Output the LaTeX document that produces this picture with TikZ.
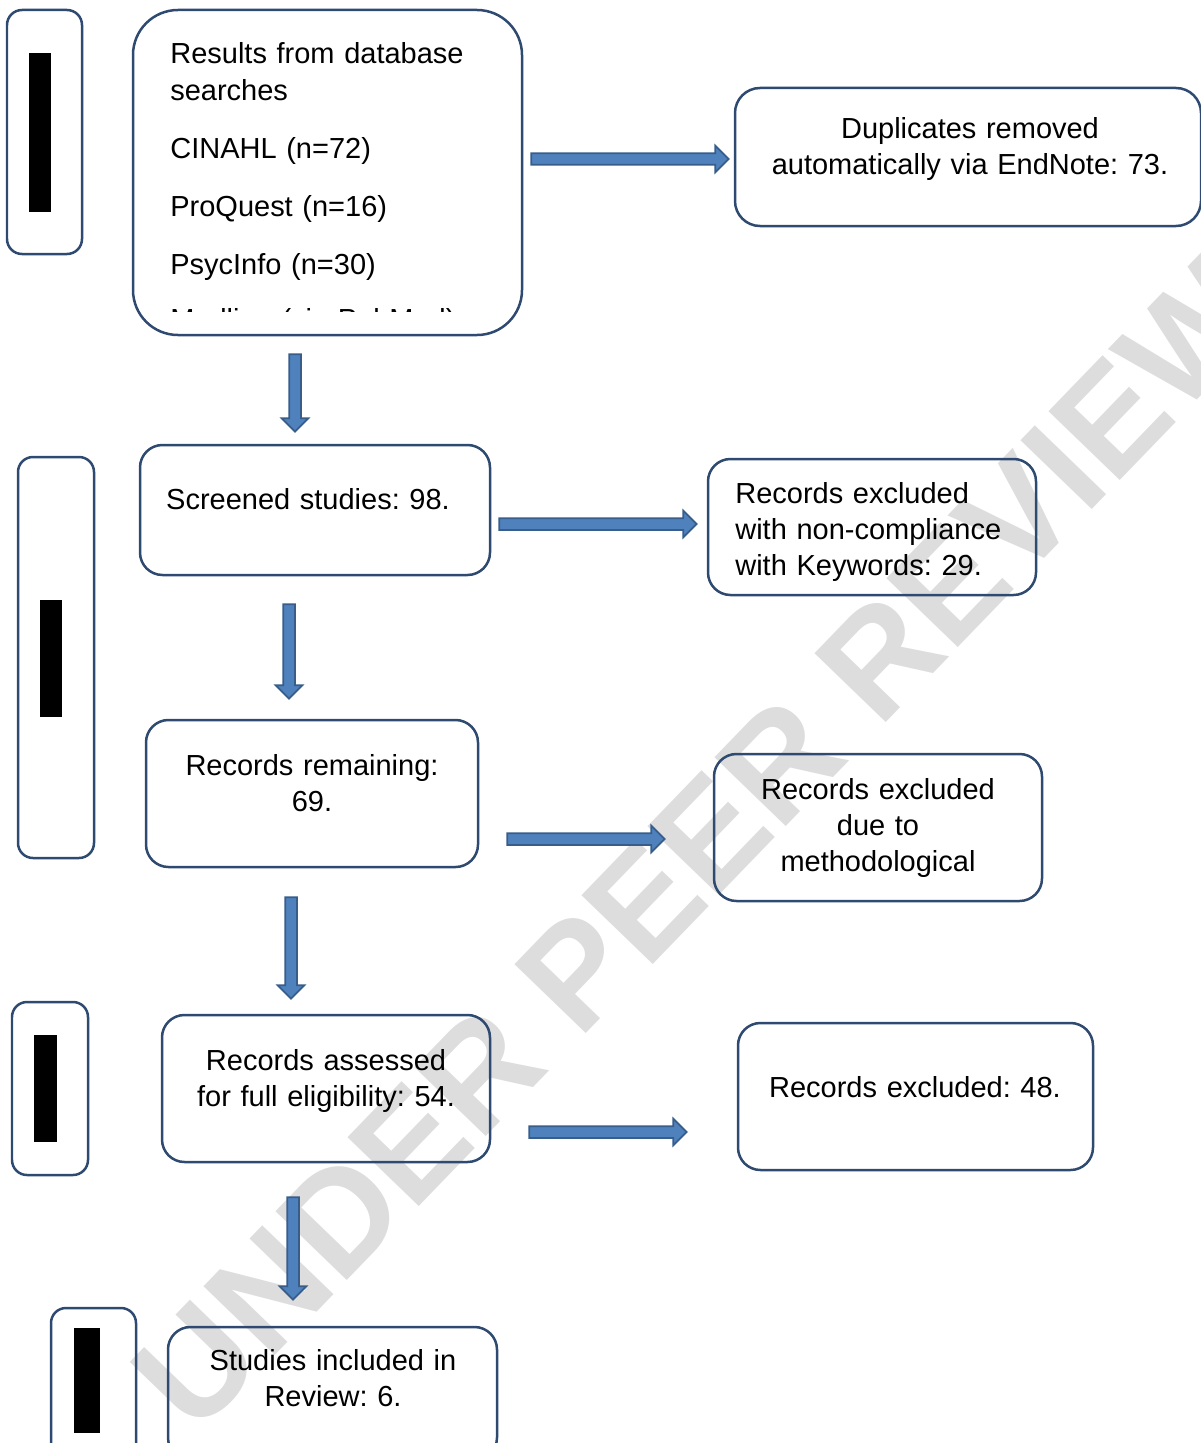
\documentclass[tikz,border=0pt]{standalone}
\usepackage{fontspec}
\setmainfont{Liberation Sans}
\frenchspacing
\usetikzlibrary{shapes.arrows,fit,calc}

\definecolor{boxedge}{RGB}{46,74,112}
\definecolor{arrowedge}{RGB}{56,93,138}
\definecolor{arrowfill}{RGB}{79,129,189}
\definecolor{markgray}{RGB}{221,221,221}

% Block arrow from one named coordinate to another (#3 = node name)
\newcommand{\blockarrow}[3]{%
  \path let \p1=(#1), \p2=(#2),
            \n1={atan2(\y2-\y1,\x2-\x1)}, \n2={veclen(\x2-\x1,\y2-\y1)} in
    ($(#1)!.5!(#2)$) node[flowarrow, minimum height=\n2, rotate=\n1] (#3) {};}

\begin{document}
\begin{tikzpicture}[x=0.02cm, y=-0.02cm,
    stagebox/.style={draw=boxedge, line width=0.05cm, inner sep=0pt},
    flowarrow/.style={single arrow, draw=arrowedge, fill=arrowfill, line width=0.035cm,
        inner xsep=0pt, inner ysep=0.1cm, minimum width=0.5cm, single arrow head extend=0.15cm,
        single arrow head indent=0pt},
    flowtext/.style={inner sep=0pt, text width=#1, align=center,
        font=\fontsize{16.5}{20.5}\selectfont}]

% Picture size (one unit = one pixel of the page)
\def\pageWidth{1200}
\def\pageHeight{1443}
\useasboundingbox (0,0) rectangle (\pageWidth,\pageHeight);

% Watermark behind everything
\node[rotate=46, text=markgray, font=\bfseries\fontsize{82}{82}\selectfont] (mark) at (700,845) {UNDER PEER REVIEW};

% Flow boxes: name / corners / corner radius (cm)
\foreach \name/\xa/\ya/\xb/\yb/\r in {search/133/10/522/335/0.9, dup/735/88/1201/226/0.5,
    screen/140/445/490/575/0.45, kw/708/459/1036/595/0.45, remain/146/720/478/867/0.45,
    method/714/754/1042/901/0.45, assess/162/1015/490/1162/0.45, excl/738/1023/1093/1170/0.45,
    incl/168/1327/497/1460/0.45} {
    \node[stagebox, rounded corners=\r cm, fit={(\xa,\ya) (\xb,\yb)}] (\name) {};
}

% Stage boxes on the left with their blacked-out labels
\foreach \i/\xa/\ya/\xb/\yb/\bxa/\bya/\bxb/\byb in {1/7/10/82/254/29/53/51/212,
    2/18/457/94/858/40/600/62/717, 3/12/1002/88/1175/34/1035/57/1142,
    4/51/1308/136/1470/74/1328/100/1433} {
    \node[stagebox, rounded corners=0.3cm, fit={(\xa,\ya) (\xb,\yb)}] (stage-\i) {};
    \fill (\bxa,\bya) rectangle (\bxb,\byb);
}

% Texts
\node[flowtext=8cm, align=left, anchor=base west] (search-txt) at (170,64)
    {Results from database\\searches\\[0.44cm]CINAHL (n=72)\\[0.44cm]ProQuest (n=16)\\[0.44cm]PsycInfo (n=30)};
\begin{scope}
    \clip (140,280) rectangle (515,311);
    \node[flowtext=8cm, align=left, anchor=base west] (search-cut) at (170,329) {Medline (via PubMed)};
\end{scope}
\node[flowtext=9cm, anchor=base] (dup-txt) at (970,138) {Duplicates removed\\automatically via EndNote: 73.};
\node[flowtext=7cm, anchor=base] (screen-txt) at (308,509) {Screened studies: 98.};
\node[flowtext=6cm, align=left, anchor=base west] (kw-txt) at (735,503)
    {Records excluded\\with non-compliance\\with Keywords: 29.};
\node[flowtext=6cm, anchor=base] (remain-txt) at (312,775) {Records remaining:\\69.};
\node[flowtext=6cm, anchor=base] (method-txt) at (878,799) {Records excluded\\due to\\methodological};
\node[flowtext=6cm, anchor=base] (assess-txt) at (326,1070) {Records assessed\\for full eligibility: 54.};
\node[flowtext=7cm, anchor=base] (excl-txt) at (915,1097) {Records excluded: 48.};
\node[flowtext=6cm, anchor=base] (incl-txt) at (333,1370) {Studies included in\\Review: 6.};

% Arrows to the right: from / to / y / gap at tail / gap at tip
\foreach \a/\b/\ya/\ga/\gb in {search/dup/159/5/8, screen/kw/524/5/13,
    remain/method/839/25/51, assess/excl/1132/35/53} {
    \path (\a.east |- 0,\ya) ++(\ga,0) coordinate (\a-out);
    \path (\b.west |- 0,\ya) ++(-\gb,0) coordinate (\b-in);
    \blockarrow{\a-out}{\b-in}{\a-\b}
}

% Arrows down: from / to / x / gap at tail / gap at tip
\foreach \a/\b/\xa/\ga/\gb in {search/screen/295/15/15, screen/remain/289/25/23,
    remain/assess/291/26/18, assess/incl/293/31/29} {
    \path (\a.south -| \xa,0) ++(0,\ga) coordinate (\a-down);
    \path (\b.north -| \xa,0) ++(0,-\gb) coordinate (\b-up);
    \blockarrow{\a-down}{\b-up}{\a-\b-v}
}

\end{tikzpicture}
\end{document}
